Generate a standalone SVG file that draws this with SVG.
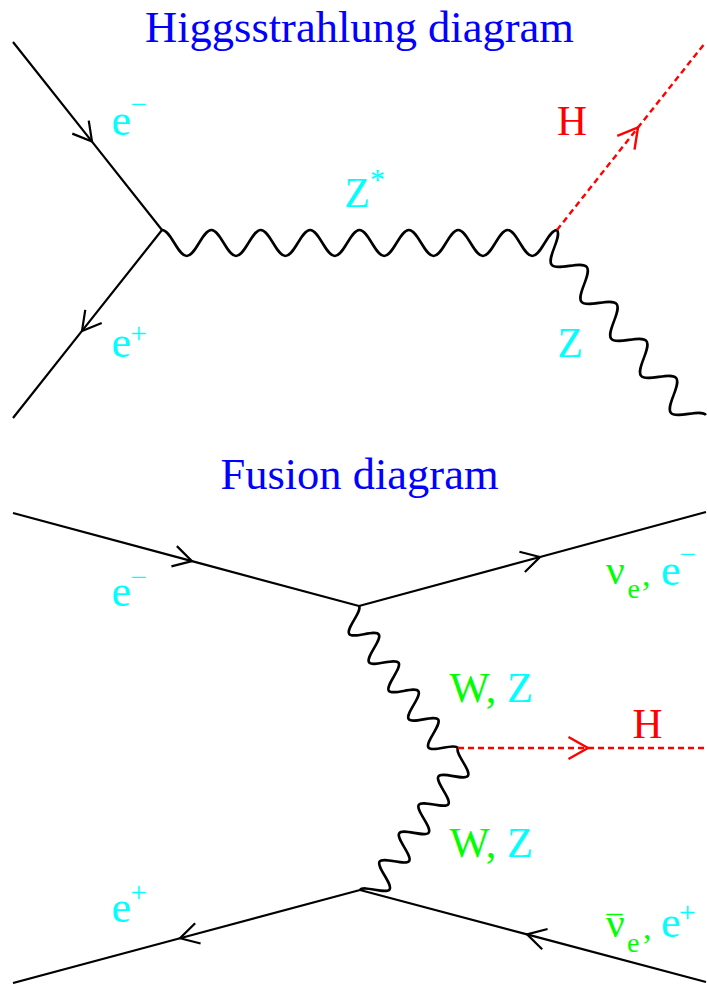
<svg xmlns="http://www.w3.org/2000/svg" width="707" height="984" viewBox="0 0 707 984">
<style>
  .title { font-family: "Liberation Serif", "Times New Roman", serif; font-size: 44.5px; fill: #0000FF; text-anchor: middle; }
  .lbl { font-family: "Liberation Serif", "Times New Roman", serif; font-size: 41.5px; }
  .wz { font-size: 42.5px; }
  .big { font-size: 44px; }
  .sup { font-size: 29px; }
  .sub { font-size: 28px; }
  .cy { fill: #00FFFF; }
  .gr { fill: #00FF00; }
  .rd { fill: #FF0000; }
  .fermion { fill: none; stroke: #000; stroke-width: 2.2; marker-mid: url(#arr); }
  .scalar { fill: none; stroke: #FF0000; stroke-width: 2.4; stroke-dasharray: 6 4; marker-mid: url(#arrRed); }
  .boson { fill: none; stroke: #000; stroke-width: 2.6; stroke-linejoin: round; }
</style>
<defs>
  <marker id="arr" markerUnits="userSpaceOnUse" markerWidth="40" markerHeight="40" viewBox="-20 -20 40 40" refX="0" refY="0" orient="auto" overflow="visible">
    <path d="M-18.5,-10.5 L0,0 L-18.5,10.5" fill="none" stroke="#000" stroke-width="2.2"/>
  </marker>
  <marker id="arrRed" markerUnits="userSpaceOnUse" markerWidth="40" markerHeight="40" viewBox="-20 -20 40 40" refX="0" refY="0" orient="auto" overflow="visible">
    <path d="M-19.5,-11 L0,0 L-19.5,11" fill="none" stroke="#FF0000" stroke-width="2.4"/>
  </marker>
</defs>
<rect width="707" height="984" fill="#FFFFFF"/>

<g id="connectors">
  <!-- Higgsstrahlung -->
  <path class="fermion" d="M13,42 L92,141.6 L162,230"/>
  <path class="fermion" d="M162,230 L82,330.9 L13,418"/>
  <path class="boson" transform="translate(162,230)" d="M0,0 C8.97,0 15.72,26 24.69,26 S40.41,0 49.38,0 S65.09,26 74.06,26 S89.78,0 98.75,0 S114.47,26 123.44,26 S139.16,0 148.13,0 S163.84,26 172.81,26 S188.53,0 197.5,0 S213.22,26 222.19,26 S237.91,0 246.88,0 S262.59,26 271.56,26 S287.28,0 296.25,0 S311.97,26 320.94,26 S336.66,0 345.63,0 S361.34,26 370.31,26 S386.03,0 395,0"/>
  <path class="boson" transform="translate(557,230) rotate(51.15)" d="M0,0 C8.63,0 15.12,26 23.75,26 S38.87,0 47.5,0 S62.62,26 71.25,26 S86.37,0 95,0 S110.12,26 118.75,26 S133.87,0 142.5,0 S157.62,26 166.25,26 S181.37,0 190,0 S205.12,26 213.75,26 S228.87,0 237.5,0"/>
  <path class="scalar" d="M557,230 L638,127.5 L705,43"/>
  <!-- Fusion -->
  <path class="fermion" d="M13,513 L192,561.1 L359,606"/>
  <path class="fermion" d="M359,606 L540,557 L706,512"/>
  <path class="fermion" d="M360,890 L180,938.2 L13,983"/>
  <path class="fermion" d="M706,982 L527,934.4 L360,890"/>
  <path class="boson" transform="translate(359,606) rotate(55.11)" d="M0,0 C6.29,0 11.02,24 17.31,24 S28.33,0 34.62,0 S45.64,24 51.93,24 S62.95,0 69.24,0 S80.26,24 86.55,24 S97.57,0 103.86,0 S114.88,24 121.17,24 S132.19,0 138.48,0 S149.5,24 155.79,24 S166.81,0 173.1,0"/>
  <path class="boson" transform="translate(458,748) rotate(124.61)" d="M0,0 C6.27,0 10.98,-24 17.25,-24 S28.23,0 34.5,0 S45.48,-24 51.75,-24 S62.73,0 69,0 S79.98,-24 86.25,-24 S97.23,0 103.5,0 S114.48,-24 120.75,-24 S131.73,0 138,0 S148.98,-24 155.25,-24 S166.23,0 172.5,0"/>
  <path class="scalar" d="M458,748 L588,748 L707,748"/>
</g>

<g id="title-higgsstrahlung"><text class="title" x="359.5" y="42">Higgsstrahlung diagram</text></g>
<g id="label-e-minus-in"><text class="lbl cy"><tspan class="big" x="111.5" y="135">e</tspan><tspan class="sup" x="130.5" y="114">−</tspan></text></g>
<g id="label-e-plus-in"><text class="lbl cy"><tspan class="big" x="111.5" y="357">e</tspan><tspan class="sup" x="130.5" y="343">+</tspan></text></g>
<g id="label-zstar"><text class="lbl cy"><tspan x="344.5" y="207">Z</tspan><tspan x="370" y="189" style="font-size:30px">*</tspan></text></g>
<g id="label-h-top"><text class="lbl rd" x="557" y="135">H</text></g>
<g id="label-z-top"><text class="lbl cy" x="557.5" y="357">Z</text></g>

<g id="title-fusion"><text class="title" x="359.5" y="489">Fusion diagram</text></g>
<g id="label-e-minus-fusion"><text class="lbl cy"><tspan class="big" x="111.5" y="606">e</tspan><tspan class="sup" x="130.5" y="587">−</tspan></text></g>
<g id="label-nu-e-minus"><text class="lbl"><tspan class="gr" x="606" y="584">ν</tspan><tspan class="gr sub" x="627.5" y="598">e</tspan><tspan class="gr" x="642" y="586" style="font-size:34px">,</tspan><tspan class="cy big" x="661" y="584.5">e</tspan><tspan class="cy sup" x="679.5" y="563.7">−</tspan></text></g>
<g id="label-wz-upper"><text class="lbl wz" x="449.5" y="701.5"><tspan class="gr">W,</tspan><tspan class="cy"> Z</tspan></text></g>
<g id="label-h-fusion"><text class="lbl rd" x="632.5" y="738">H</text></g>
<g id="label-wz-lower"><text class="lbl wz" x="449.5" y="857"><tspan class="gr">W,</tspan><tspan class="cy"> Z</tspan></text></g>
<g id="label-e-plus-fusion"><text class="lbl cy"><tspan class="big" x="111.5" y="922">e</tspan><tspan class="sup" x="130.5" y="901.7">+</tspan></text></g>
<g id="label-nubar-e-plus"><text class="lbl"><tspan class="gr" x="606" y="937">ν</tspan><tspan class="gr" x="606.5" y="937.5" style="font-size:32px">¯</tspan><tspan class="gr sub" x="627" y="951.5">e</tspan><tspan class="gr" x="643" y="939" style="font-size:34px">,</tspan><tspan class="cy big" x="661" y="937">e</tspan><tspan class="cy sup" x="679" y="921.5" style="font-size:30px">+</tspan></text></g>
</svg>
